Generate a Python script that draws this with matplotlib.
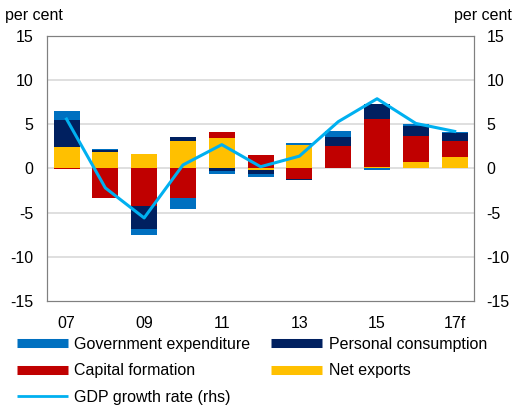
import numpy as np
import matplotlib.pyplot as plt
from matplotlib.lines import Line2D

plt.rcParams['font.family'] = ['Liberation Sans', 'DejaVu Sans']

years = ['07', '08', '09', '10', '11', '12', '13', '14', '15', '16', '17f']
net_exports = [2.4, 1.9, 1.6, 3.1, 3.5, -0.15, 2.7, 0.1, 0.15, 0.7, 1.27]
capital = [-0.1, -3.3, -4.2, -3.3, 0.6, 1.5, -1.2, 2.5, 5.45, 3.0, 1.8]
personal = [3.1, 0.2, -2.6, 0.5, -0.3, -0.45, -0.15, 1.0, 1.7, 1.15, 1.0]
government = [1.0, 0.1, -0.7, -1.3, -0.3, -0.35, 0.2, 0.65, -0.2, 0.2, 0.1]
gdp = [5.6, -2.2, -5.6, 0.4, 2.7, 0.2, 1.4, 5.3, 7.9, 5.1, 4.2]

series = [
    ('Government expenditure', government, '#0070C0'),
    ('Personal consumption', personal, '#002060'),
    ('Capital formation', capital, '#C00000'),
    ('Net exports', net_exports, '#FFC000'),
]

fs = 11.5
fig = plt.figure(figsize=(5.12, 4.05), dpi=100)
ax = fig.add_axes([0.092, 0.257, 0.834, 0.654])
x = np.arange(len(years))

# stack positives up and negatives down, net exports first
pos = np.zeros(len(years))
neg = np.zeros(len(years))
for name, vals, col in [series[3], series[2], series[1], series[0]]:
    v = np.array(vals)
    bottom = np.where(v >= 0, pos, neg)
    ax.bar(x, v, 0.67, bottom=bottom, color=col, linewidth=0)
    pos += np.where(v >= 0, v, 0)
    neg += np.where(v < 0, v, 0)

ax.set_xlim(-0.5, 10.5)
ax.set_ylim(-15, 15)
ax.set_yticks(range(-15, 16, 5))
ax.set_yticklabels([str(t) for t in range(-15, 16, 5)], fontsize=fs)
ax.set_xticks(x[::2])
ax.set_xticklabels(years[::2], fontsize=fs)
ax.tick_params(axis='x', length=0, pad=11)
ax.tick_params(axis='y', length=0, pad=10)
for t in [-10, -5, 0, 5, 10]:
    ax.axhline(t, color='#d9d9d9', lw=1.2, zorder=0)
for s in ax.spines.values():
    s.set_color('#808080')

ax2 = ax.twinx()
ax2.plot(x, gdp, color='#00B0F0', lw=2.2)
ax2.set_ylim(-15, 15)
ax2.set_yticks(range(-15, 16, 5))
ax2.set_yticklabels([str(t) for t in range(-15, 16, 5)], fontsize=fs)
ax2.tick_params(length=0, pad=9)
for s in ax2.spines.values():
    s.set_color('#808080')

fig.text(0.01, 0.962, 'per cent', fontsize=fs, va='center')
fig.text(0.999, 0.962, 'per cent', fontsize=fs, va='center', ha='right')

handles = [Line2D([], [], color=c, lw=6.5, solid_capstyle='butt') for _, _, c in series]
labels = [n for n, _, _ in series]
handles.append(Line2D([], [], color='#00B0F0', lw=2, solid_capstyle='butt'))
labels.append('GDP growth rate (rhs)')
order = [0, 2, 4, 1, 3]
fig.legend([handles[i] for i in order], [labels[i] for i in order],
           ncol=2, loc='upper left', bbox_to_anchor=(0.033, 0.168),
           frameon=False, fontsize=fs, handlelength=3.2, handletextpad=0.4,
           columnspacing=1.3, labelspacing=0.72, borderpad=0, borderaxespad=0)

fig.savefig('out.png', dpi=100)
